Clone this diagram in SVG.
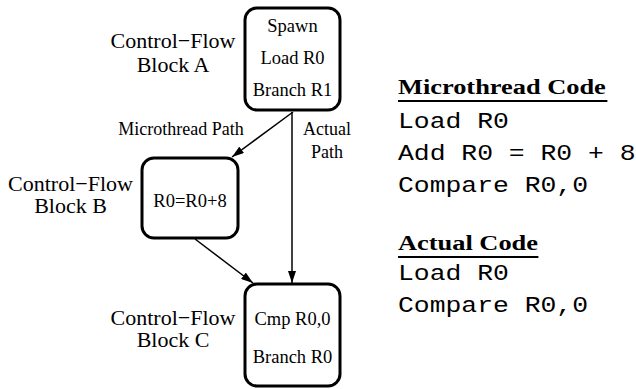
<svg xmlns="http://www.w3.org/2000/svg" width="636" height="389" viewBox="0 0 636 389">
<style>
.box{fill:#fff;stroke:#000;stroke-width:3}
.t{font-family:"Liberation Serif","Times New Roman",serif;fill:#000;text-anchor:middle}
.n{font-size:18.5px}
.lbl{font-size:22px}
.e{font-size:18px}
.edge{stroke:#000;stroke-width:1.5;fill:none;marker-end:url(#ah)}
.h{font-family:"Liberation Serif","Times New Roman",serif;font-weight:bold;font-size:22px}
.m{font-family:"Liberation Mono","Courier New",monospace;font-size:22px}
</style>
<defs>
<marker id="ah" viewBox="0 0 12 8" refX="12" refY="4" markerWidth="12" markerHeight="8" markerUnits="userSpaceOnUse" orient="auto">
<path d="M0,0 L12,4 L0,8 z" fill="#000"/>
</marker>
</defs>
<g id="connectors">
<line class="edge" x1="293" y1="112" x2="232" y2="157"/>
<line class="edge" x1="292" y1="112" x2="292" y2="283"/>
<line class="edge" x1="195" y1="239" x2="253" y2="283"/>
<text class="t e" x="181" y="135">Microthread Path</text>
<text class="t e" x="327" y="135">Actual</text>
<text class="t e" x="327" y="158">Path</text>
</g>
<g id="blockA">
<rect class="box" x="245" y="8" width="95" height="102" rx="12"/>
<text class="t n" x="292.5" y="32">Spawn</text>
<text class="t n" x="292.5" y="64">Load R0</text>
<text class="t n" x="292.5" y="96">Branch R1</text>
<text class="t lbl" x="173" y="48">Control−Flow</text>
<text class="t lbl" x="173" y="72">Block A</text>
</g>
<g id="blockB">
<rect class="box" x="142" y="158" width="96" height="80" rx="12"/>
<text class="t n" x="190" y="207">R0=R0+8</text>
<text class="t lbl" x="70.5" y="191">Control−Flow</text>
<text class="t lbl" x="70.5" y="213">Block B</text>
</g>
<g id="blockC">
<rect class="box" x="245" y="284" width="95" height="102" rx="12"/>
<text class="t n" x="292.5" y="325">Cmp R0,0</text>
<text class="t n" x="292.5" y="363">Branch R0</text>
<text class="t lbl" x="173" y="325">Control−Flow</text>
<text class="t lbl" x="173" y="347">Block C</text>
</g>
<g id="code" transform="matrix(1.2,0,0,1,398,0)">
<text class="h" x="0" y="94">Microthread Code</text>
<line x1="0" y1="101" x2="174.5" y2="101" stroke="#000" stroke-width="2"/>
<text class="m" x="0" y="128">Load R0</text>
<text class="m" x="0" y="160">Add R0 = R0 + 8</text>
<text class="m" x="0" y="192">Compare R0,0</text>
<text class="h" x="0" y="250">Actual Code</text>
<line x1="0" y1="257" x2="117" y2="257" stroke="#000" stroke-width="2"/>
<text class="m" x="0" y="280">Load R0</text>
<text class="m" x="0" y="312">Compare R0,0</text>
</g>
</svg>
